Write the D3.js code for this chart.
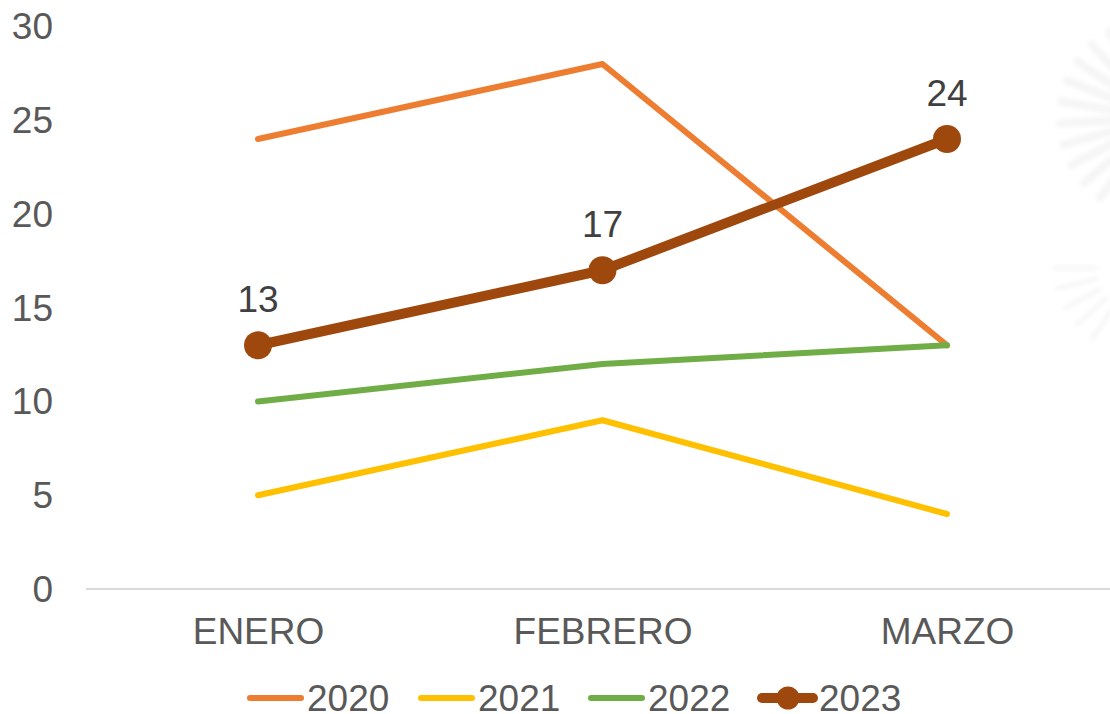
<!DOCTYPE html>
<html>
<head>
<meta charset="utf-8">
<script src="https://cdn.jsdelivr.net/npm/d3@7"></script>
<style>
  html, body { margin: 0; padding: 0; background: #fff; overflow: hidden; }
  text { font-family: "Liberation Sans", Arial, sans-serif; font-size: 37px; fill: #595959; }
  .dato { fill: #404040; }
</style>
</head>
<body>
<div id="graf"></div>
<script>
const meses = ['ENERO', 'FEBRERO', 'MARZO']
const anos = ['2020', '2021', '2022', '2023']
const v2020 = [24, 28, 13]
const v2021 = [5, 9, 4]
const v2022 = [10, 12, 13]
const v2023 = [13, 17, 24]
const ticksY = [0, 5, 10, 15, 20, 25, 30]
const colores = ['#ed7d31', '#ffc000', '#70ad47', '#9e480e']

const series = [v2020, v2021, v2022, v2023]

const anchoTotal = 1110
const altoTotal = 714

const svg = d3.select('#graf')
  .append('svg')
  .attr('width', anchoTotal)
  .attr('height', altoTotal)

// marca de agua, apenas visible
const blur = svg.append('defs').append('filter').attr('id', 'suave')
blur.append('feGaussianBlur').attr('stdDeviation', 2.2)

const marca = svg.append('g')
  .attr('stroke', '#f5f5f5')
  .attr('stroke-linecap', 'round')
  .attr('filter', 'url(#suave)')

d3.range(-72, 75, 12.5).forEach(a => {
  const r = a * Math.PI / 180
  marca.append('line')
    .attr('x1', 1160 - 100 * Math.cos(r))
    .attr('y1', 118 + 100 * Math.sin(r))
    .attr('x2', 1160 - 40 * Math.cos(r))
    .attr('y2', 118 + 40 * Math.sin(r))
    .attr('stroke-width', 8)
})
d3.range(0, 60, 14).forEach(a => {
  const r = a * Math.PI / 180
  marca.append('line')
    .attr('x1', 1140 - 85 * Math.cos(r))
    .attr('y1', 268 + 85 * Math.sin(r))
    .attr('x2', 1140 - 45 * Math.cos(r))
    .attr('y2', 268 + 45 * Math.sin(r))
    .attr('stroke-width', 4)
})

const x = d3.scalePoint()
  .domain(meses)
  .range([258, 947])

const y = d3.scaleLinear()
  .domain([0, 30])
  .range([589, 26.5])

// eje X: la linea sigue hasta fuera del lienzo
svg.append('line')
  .attr('x1', 86)
  .attr('x2', 1120)
  .attr('y1', y(0))
  .attr('y2', y(0))
  .attr('stroke', '#d9d9d9')
  .attr('stroke-width', 2)

svg.append('g')
  .attr('transform', `translate(0, ${y(0)})`)
  .call(d3.axisBottom(x).tickSize(0).tickPadding(29))
  .call(g => g.select('.domain').remove())

svg.append('g')
  .attr('transform', 'translate(53, 0.6)')
  .call(d3.axisLeft(y).tickValues(ticksY).tickSize(0).tickPadding(0))
  .call(g => g.select('.domain').remove())

svg.selectAll('g').attr('font-family', null).attr('font-size', null)

const linea = d3.line()
  .x((d, i) => x(meses[i]))
  .y(d => y(d))

svg.selectAll('.serie')
  .data(series)
  .enter()
  .append('path')
  .attr('class', 'serie')
  .attr('d', linea)
  .attr('fill', 'none')
  .attr('stroke', (d, i) => colores[i])
  .attr('stroke-width', (d, i) => i == 3 ? 10 : 6)
  .attr('stroke-linecap', 'round')
  .attr('stroke-linejoin', 'round')

svg.selectAll('.punto')
  .data(v2023)
  .enter()
  .append('circle')
  .attr('class', 'punto')
  .attr('cx', (d, i) => x(meses[i]))
  .attr('cy', d => y(d))
  .attr('r', 14)
  .attr('fill', colores[3])

svg.selectAll('.dato')
  .data(v2023)
  .enter()
  .append('text')
  .attr('class', 'dato')
  .attr('x', (d, i) => x(meses[i]))
  .attr('y', d => y(d) - 33)
  .attr('text-anchor', 'middle')
  .text(d => d)

// leyenda
const leyendaX = d3.scaleOrdinal()
  .domain(anos)
  .range([250, 421, 591, 762])

const leyenda = svg.selectAll('.leyenda')
  .data(anos)
  .enter()
  .append('g')
  .attr('class', 'leyenda')
  .attr('transform', d => `translate(${leyendaX(d)}, 698)`)

leyenda.append('line')
  .attr('x1', 0)
  .attr('x2', 51)
  .attr('stroke', (d, i) => colores[i])
  .attr('stroke-width', (d, i) => i == 3 ? 10 : 6)
  .attr('stroke-linecap', 'round')

leyenda.filter(d => d == '2023')
  .append('circle')
  .attr('cx', 26)
  .attr('r', 11.5)
  .attr('fill', colores[3])

leyenda.append('text')
  .attr('x', 57)
  .attr('y', 13)
  .text(d => d)
</script>
</body>
</html>
